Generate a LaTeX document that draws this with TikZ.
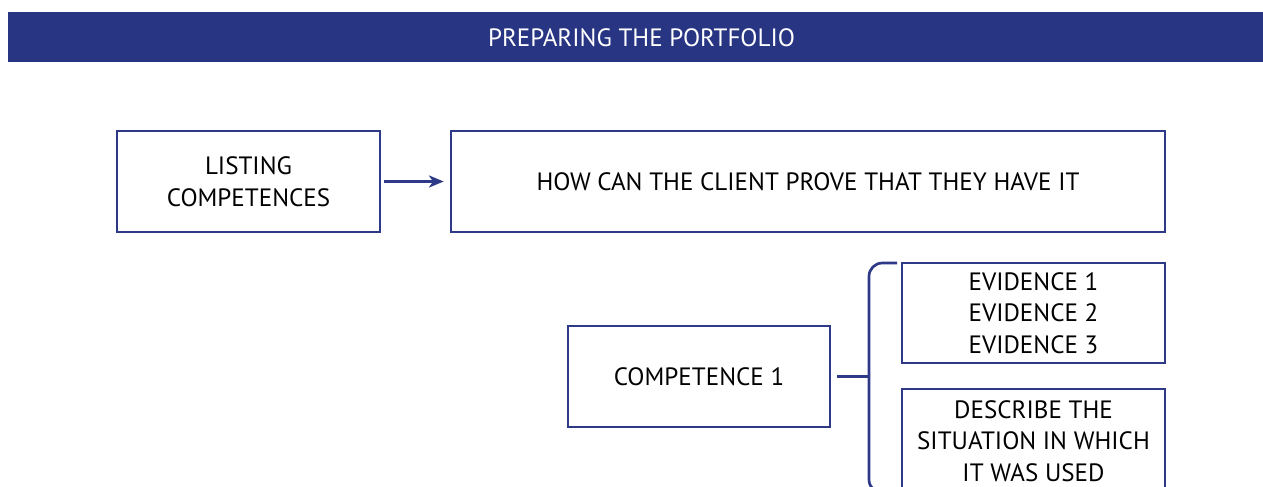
\documentclass[tikz,border=0pt]{standalone}
\usepackage{fontspec}
\setmainfont{PT Sans}
\usetikzlibrary{arrows.meta}
\definecolor{navy}{HTML}{283583}
\definecolor{frame}{HTML}{2E3A87}
\begin{document}
\begin{tikzpicture}[x=0.75pt,y=-0.75pt,
  box/.style={draw=frame,line width=2pt,align=center,inner sep=0pt,
    font=\fontsize{18.8}{23.6}\selectfont},
  link/.style={draw=frame,line width=2pt}]
\useasboundingbox (0,0) rectangle (1263,486);
\clip (0,0) rectangle (1263,486);
% title banner
\fill[navy] (8,12) rectangle (1263,62);
\node[text=white,font=\fontsize{18.8}{23.6}\selectfont] (title) at (641.5,37.5) {PREPARING THE PORTFOLIO};
% top row
\node[box,minimum width=197.25pt,minimum height=75.75pt] (list) at (248.5,181.5) {LISTING\\COMPETENCES};
\node[box,minimum width=535.5pt,minimum height=75.75pt] (how) at (808,181.5) {HOW CAN THE CLIENT PROVE THAT THEY HAVE IT};
\draw[link,-{Stealth[length=11pt,width=9pt,inset=3pt]},shorten <=2.25pt,shorten >=4.5pt] (list) -- (how);
% competence and its evidence
\node[box,minimum width=196.5pt,minimum height=75.75pt] (comp) at (699,376.5) {COMPETENCE 1};
\node[box,minimum width=197.25pt,minimum height=75pt] (ev) at (1033.5,313) {EVIDENCE 1\\EVIDENCE 2\\EVIDENCE 3};
\node[box,minimum width=197.25pt,minimum height=78pt] (desc) at (1033.5,441) {DESCRIBE THE\\SITUATION IN WHICH\\IT WAS USED};
% bracket grouping the two boxes
\coordinate (btop) at (897,263);
\coordinate (bbot) at (897,493);
\coordinate (bmid) at (869,376.5);
\draw[link,rounded corners=10pt] (btop) -- (869,263) -- (869,493) -- (bbot);
\draw[link,shorten <=4.5pt] (comp.east) -- (bmid);
\end{tikzpicture}
\end{document}
